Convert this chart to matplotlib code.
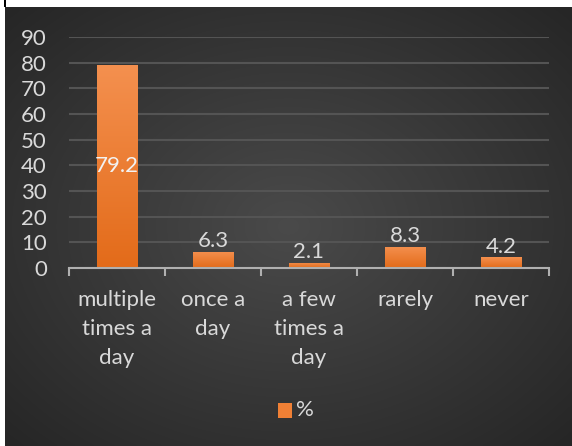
import matplotlib.pyplot as plt
import numpy as np
from matplotlib.patches import Rectangle

categories = ["multiple\ntimes a\nday", "once a\nday", "a few\ntimes a\nday", "rarely", "never"]
values = [79.2, 6.3, 2.1, 8.3, 4.2]
series_name = "%"
yticks = [0, 10, 20, 30, 40, 50, 60, 70, 80, 90]

W, H = 572, 446
plt.rcParams['font.family'] = ['Lato', 'DejaVu Sans']
text_col = '#d9d9d9'
fs = 16

fig = plt.figure(figsize=(W / 100, H / 100), dpi=100, facecolor='white')

# dark panel with a soft radial gradient
bg = fig.add_axes([5 / W, 0, 1 - 5 / W, 1 - 7 / H], zorder=0)
yy, xx = np.mgrid[0:1:200j, 0:1:260j]
r = np.sqrt(((xx - 0.5) / 0.75) ** 2 + ((yy - 0.5) / 0.75) ** 2)
shade = np.clip(0.29 - 0.15 * r, 0.15, 0.3)
bg.imshow(np.dstack([shade] * 3), aspect='auto', extent=[0, 1, 0, 1], interpolation='bilinear')
bg.set_axis_off()
fig.add_artist(Rectangle((4 / W, 1 - 7 / H), 2 / W, 7 / H, transform=fig.transFigure,
                         color='black', lw=0))

ax = fig.add_axes([69 / W, 1 - 268 / H, 480 / W, 231 / H], zorder=1)
ax.set_facecolor('none')
x = np.arange(len(categories))
bars = ax.bar(x, values, width=0.42, color='#ee7a30', zorder=3)

# vertical gradient on each bar
grad = np.linspace(0, 1, 100).reshape(-1, 1)
top_c = np.array([0.957, 0.565, 0.31])
bot_c = np.array([0.89, 0.42, 0.1])
img = top_c * (1 - grad[..., None]) + bot_c * grad[..., None]
for b in bars:
    bx, by = b.get_x(), b.get_y()
    bw, bh = b.get_width(), b.get_height()
    im = ax.imshow(img, extent=[bx, bx + bw, by, by + bh], aspect='auto', zorder=4,
                   interpolation='bilinear')
    im.set_clip_path(b)

ax.set_xlim(-0.5, len(categories) - 0.5)
ax.set_ylim(0, 90)
ax.set_yticks(yticks)
ax.yaxis.grid(True, color='#545454', lw=1.5, zorder=0)
ax.set_axisbelow(True)
for s in ['top', 'right', 'left']:
    ax.spines[s].set_visible(False)
ax.spines['bottom'].set_color('#b0b0b0')
ax.spines['bottom'].set_linewidth(1.5)
ax.spines['bottom'].set_zorder(6)

ax.tick_params(axis='y', length=0, labelsize=fs, labelcolor=text_col, pad=16)
ax.set_xticks(x)
ax.set_xticklabels(categories, fontsize=fs, color=text_col, linespacing=1.55)
ax.tick_params(axis='x', which='major', length=0, pad=16)
ax.set_xticks(np.arange(-0.5, len(categories), 1), minor=True)
ax.tick_params(axis='x', which='minor', length=6, width=1.5, color='#b0b0b0', direction='out')

for i, v in enumerate(values):
    if v > 50:
        ax.text(i, v / 2, f"{v}", ha='center', va='center', fontsize=fs, color='#f2f2f2', zorder=7)
    else:
        ax.text(i, v + 0.2, f"{v}", ha='center', va='bottom', fontsize=fs, color=text_col, zorder=7)

# legend
fig.add_artist(Rectangle((278 / W, 1 - 418 / H), 14 / W, 15 / H, transform=fig.transFigure,
                         color='#f08035', lw=0))
fig.text(296 / W, 1 - 410 / H, series_name, fontsize=fs, color=text_col, va='center', ha='left')

fig.savefig('out.png', dpi=100, facecolor='white')
